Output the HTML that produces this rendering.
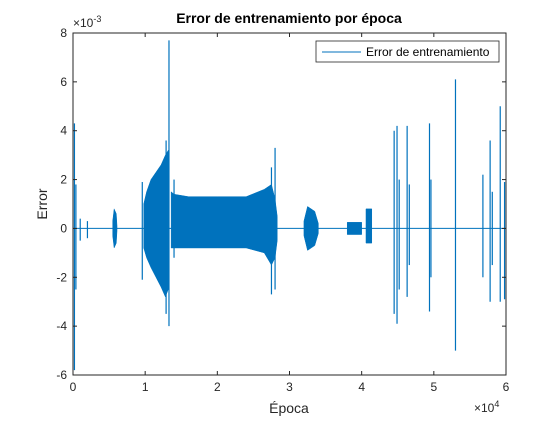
<!DOCTYPE html>
<html><head><meta charset="utf-8"><style>
body{margin:0;background:#fff;width:560px;height:420px;overflow:hidden}
svg{font-family:"Liberation Sans",sans-serif}
</style></head><body>
<svg id="chart" width="560" height="420">
<rect x="0" y="0" width="560" height="420" fill="#fff"/>
<g id="plot"></g>
<rect x="73" y="33" width="433" height="342" fill="none" stroke="#262626" stroke-width="1"/>
<g id="ticks" font-size="12" fill="#262626"></g>
<text x="289" y="23" text-anchor="middle" font-size="14" font-weight="bold" fill="#000">Error de entrenamiento por época</text>
<text x="289" y="413" text-anchor="middle" font-size="14" fill="#262626">Época</text>
<text transform="translate(47,204) rotate(-90)" text-anchor="middle" font-size="14" fill="#262626">Error</text>
<text x="73" y="27" font-size="12" fill="#262626">×10<tspan dy="-5" font-size="9">-3</tspan></text>
<text x="474" y="412" font-size="12" fill="#262626">×10<tspan dy="-5" font-size="9">4</tspan></text>
<g>
<rect x="316" y="41" width="183" height="21" fill="#fff" stroke="#262626" stroke-width="0.8"/>
<line x1="322" y1="52" x2="361" y2="52" stroke="#0072BD" stroke-width="1"/>
<text x="366" y="56" font-size="12" fill="#000">Error de entrenamiento</text>
</g>
</svg>
<script>
const xTicks=[0,1,2,3,4,5,6];
const yTicks=[8,6,4,2,0,-2,-4,-6];
// bands (x in 1e3 epochs, error in 1e-3)
const bandAx=[9.8,10.2,10.8,11.5,12.2,12.8,13.2];
const bandAup=[1.0,1.5,2.0,2.3,2.6,3.0,3.2];
const bandAlo=[-0.8,-1.2,-1.6,-2.0,-2.4,-2.8,-2.5];
const bandBx=[13.6,14,16,20,24,26.5,27.5,28,28.3];
const bandBup=[1.5,1.4,1.3,1.3,1.3,1.6,1.8,1.2,0.5];
const bandBlo=[-0.8,-0.8,-0.8,-0.8,-0.8,-1.0,-1.5,-1.2,-0.5];
const bandCx=[5.5,5.7,6.0,6.1];
const bandCup=[0.3,0.8,0.6,0.1];
const bandClo=[-0.3,-0.8,-0.6,-0.1];
const bandDx=[32,32.5,33.5,34];
const bandDup=[0.3,0.9,0.7,0.2];
const bandDlo=[-0.3,-0.9,-0.7,-0.2];
const bandEx=[38,40];
const bandEup=[0.25,0.25];
const bandElo=[-0.25,-0.25];
const bandFx=[40.6,41.4];
const bandFup=[0.8,0.8];
const bandFlo=[-0.6,-0.6];
const spikeX=[0.2,0.4,1,2,9.6,12.9,13.3,14,27.5,28,44.5,44.9,45.2,46.3,46.6,49.4,49.6,53,56.8,57.8,58.1,59.2,59.8];
const spikeHi=[4.3,1.8,0.4,0.3,1.9,3.6,7.7,2.0,2.5,3.3,4.0,4.2,2.0,4.2,1.8,4.3,2.0,6.1,2.2,3.6,1.5,5.0,1.9];
const spikeLo=[-5.8,-2.5,-0.5,-0.4,-2.1,-3.5,-4.0,-1.2,-2.7,-2.5,-3.5,-3.9,-2.5,-2.8,-1.5,-3.4,-2.0,-5.0,-2.0,-3.0,-1.5,-3.0,-2.9];

const NS="http://www.w3.org/2000/svg";
const X=v=>73+v/60*433;
const Y=v=>33+(8-v)/14*342;
const plot=document.getElementById('plot'),tg=document.getElementById('ticks');
function mk(t,a,p){const e=document.createElementNS(NS,t);for(const k in a)e.setAttribute(k,a[k]);p.appendChild(e);return e;}
xTicks.forEach(t=>{
 const px=X(t*10);
 mk('line',{x1:px,y1:375,x2:px,y2:371,stroke:'#262626'},tg);
 mk('line',{x1:px,y1:33,x2:px,y2:37,stroke:'#262626'},tg);
 const tx=mk('text',{x:px,y:391,'text-anchor':'middle'},tg);tx.textContent=t;
 
 
});
yTicks.forEach(t=>{
 const py=Y(t);
 mk('line',{x1:73,y1:py,x2:77,y2:py,stroke:'#262626'},tg);
 mk('line',{x1:506,y1:py,x2:502,y2:py,stroke:'#262626'},tg);
 const tx=mk('text',{x:67,y:py+4,'text-anchor':'end'},tg);tx.textContent=t;
 
 
});
const base=mk('line',{x1:X(0),y1:Y(0),x2:X(60),y2:Y(0),stroke:'#0072BD','stroke-width':1},plot);


function band(xs,up,lo,name){
 let pts=xs.map((x,i)=>X(x)+','+Y(up[i]));
 for(let i=xs.length-1;i>=0;i--)pts.push(X(xs[i])+','+Y(lo[i]));
 const p=mk('polygon',{points:pts.join(' '),fill:'#0072BD',stroke:'#0072BD','stroke-width':0.5},plot);
 
 
}
band(bandAx,bandAup,bandAlo,'error-band-a');
band(bandBx,bandBup,bandBlo,'error-band-b');
band(bandCx,bandCup,bandClo,'error-band-c');
band(bandDx,bandDup,bandDlo,'error-band-d');
band(bandEx,bandEup,bandElo,'error-band-e');
band(bandFx,bandFup,bandFlo,'error-band-f');
spikeX.forEach((x,i)=>{
 const l=mk('line',{x1:X(x),x2:X(x),y1:Y(spikeHi[i]),y2:Y(spikeLo[i]),stroke:'#0072BD','stroke-width':1.2},plot);
 
 
});
</script>
</body></html>
